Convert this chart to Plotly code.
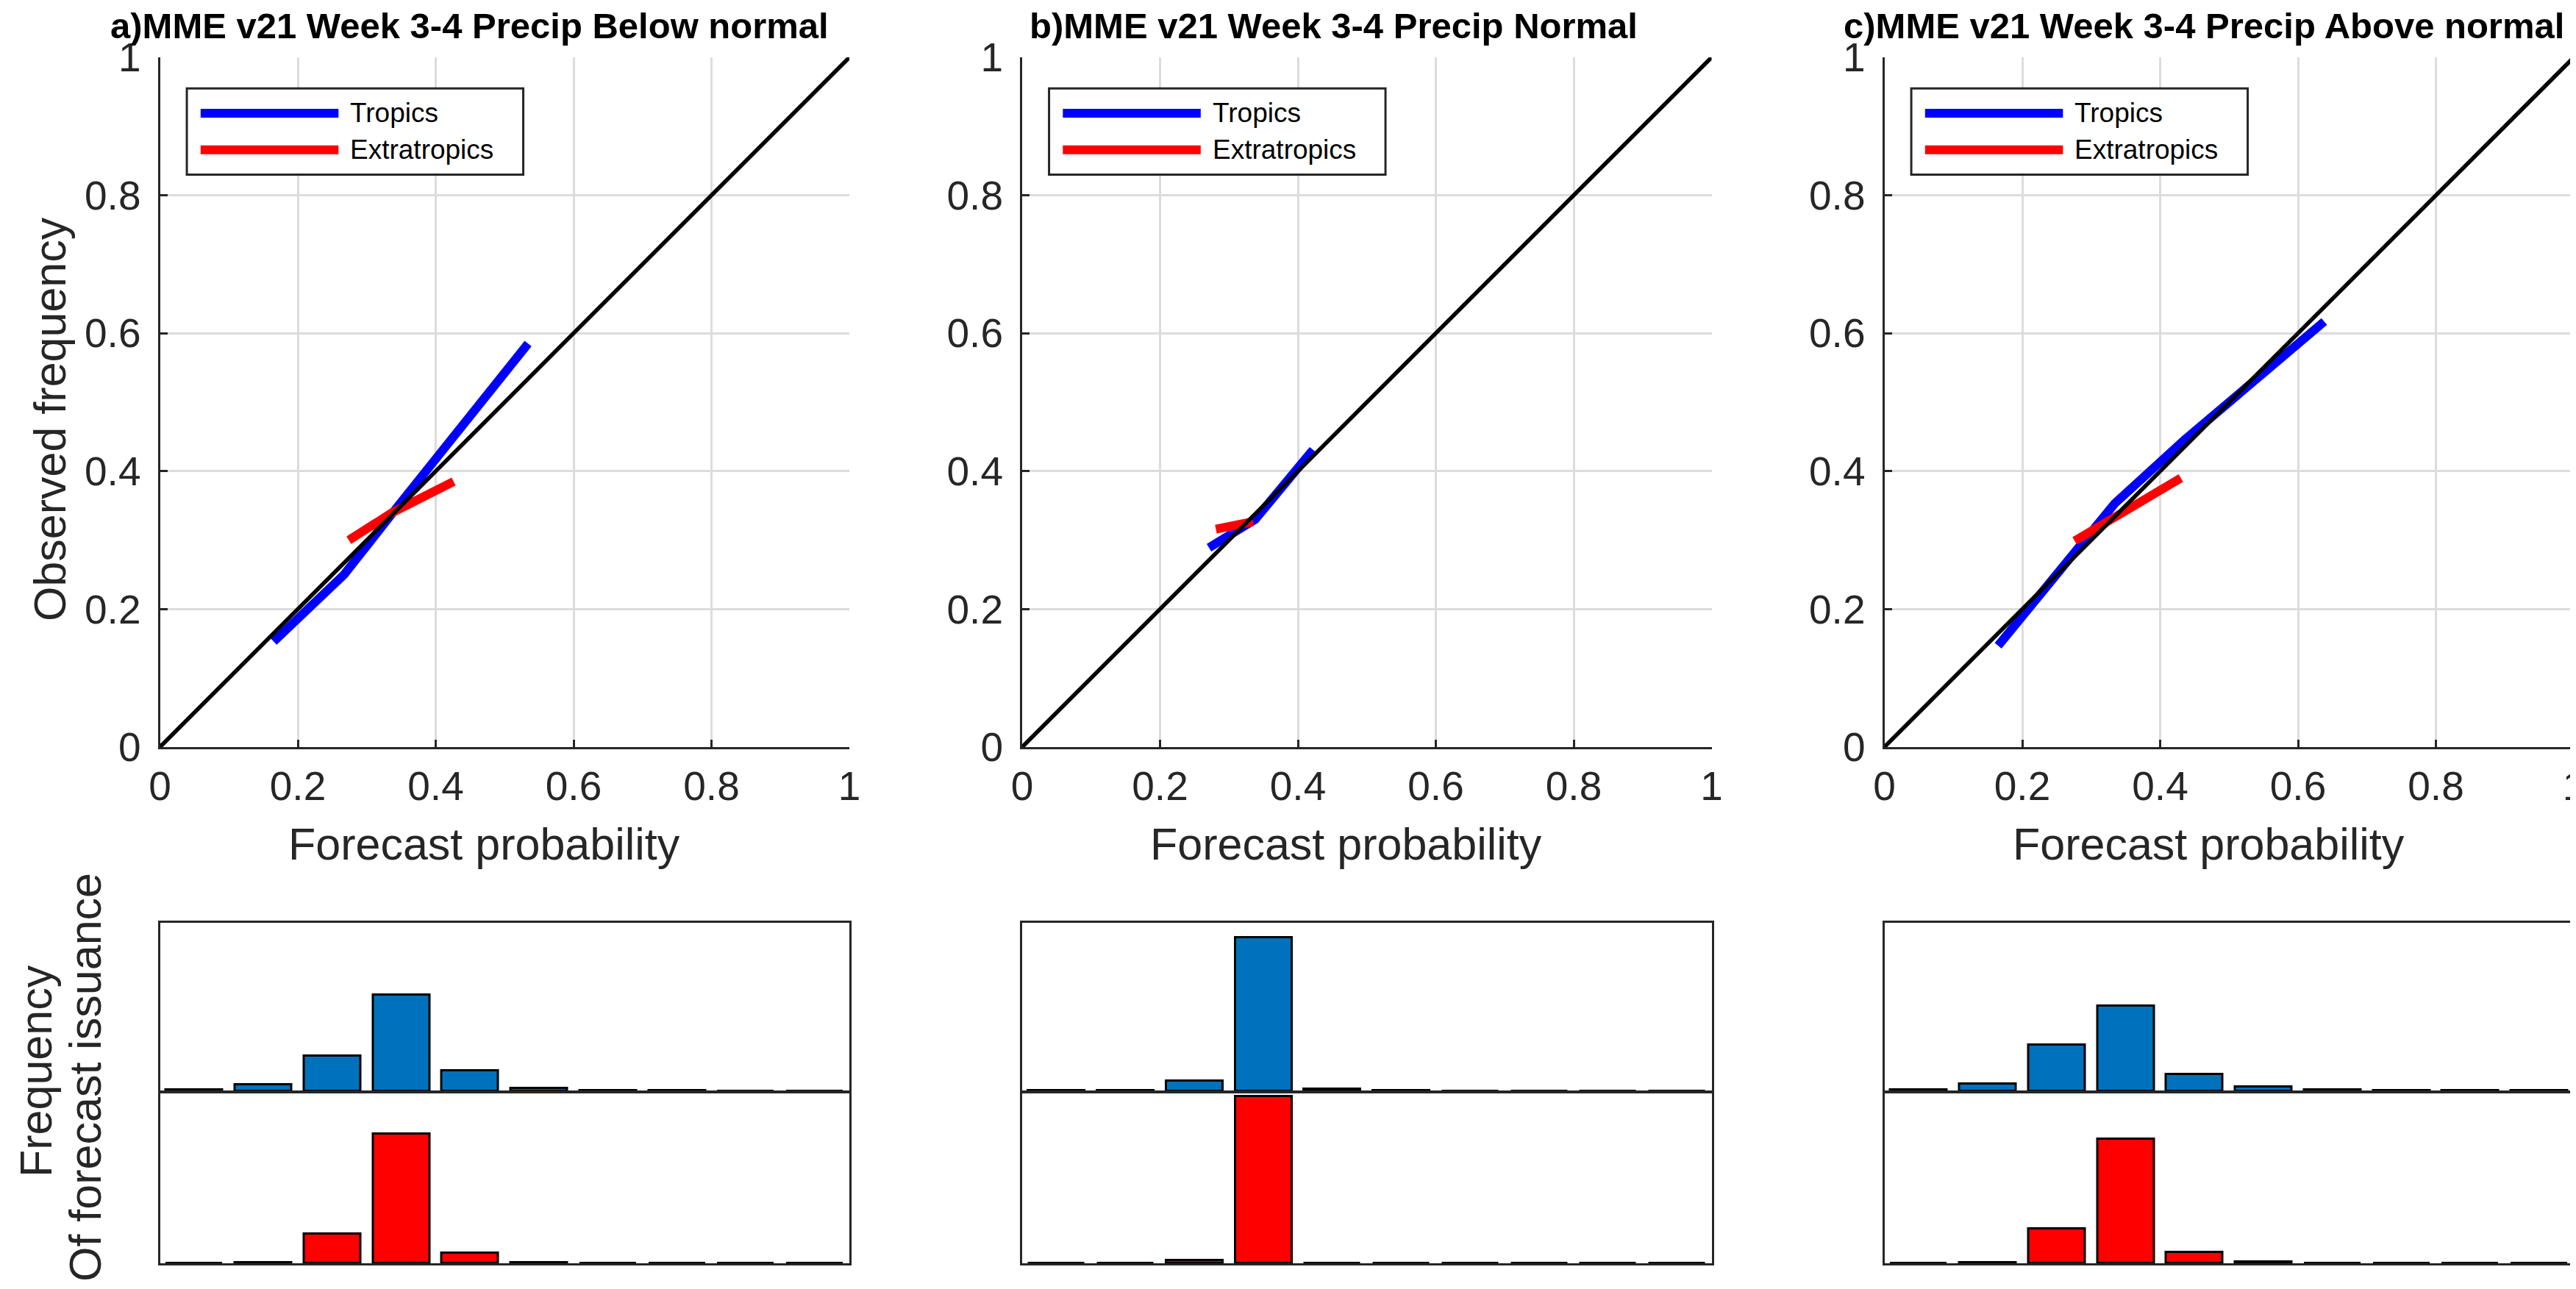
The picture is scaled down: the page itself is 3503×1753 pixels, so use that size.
import plotly.graph_objects as go

# page window is 3503x1753; the html body has an 8 px margin
PAGE_W, PAGE_H = 3503, 1753
OFF = 8
W, H = PAGE_W - OFF, PAGE_H - OFF

# ---------------- data ----------------
titles = ["a)MME v21 Week 3-4 Precip Below normal",
          "b)MME v21 Week 3-4 Precip Normal",
          "c)MME v21 Week 3-4 Precip Above normal"]

tick_vals = [0, 0.2, 0.4, 0.6, 0.8, 1]
tick_text = ["0", "0.2", "0.4", "0.6", "0.8", "1"]

bin_centers = [0.05, 0.15, 0.25, 0.35, 0.45, 0.55, 0.65, 0.75, 0.85, 0.95]

# reliability curves (forecast probability, observed frequency)
trop_x_a = [0.165, 0.267, 0.345, 0.429, 0.534]
trop_y_a = [0.153, 0.250, 0.349, 0.455, 0.585]
extra_x_a = [0.274, 0.337, 0.426]
extra_y_a = [0.300, 0.340, 0.385]

trop_x_b = [0.271, 0.338, 0.422]
trop_y_b = [0.289, 0.330, 0.431]
extra_x_b = [0.281, 0.335]
extra_y_b = [0.316, 0.327]

trop_x_c = [0.165, 0.263, 0.334, 0.435, 0.495, 0.638]
trop_y_c = [0.147, 0.266, 0.353, 0.445, 0.497, 0.617]
extra_x_c = [0.276, 0.335, 0.430]
extra_y_c = [0.299, 0.334, 0.390]

# frequency of forecast issuance (fraction per bin)
hist_trop_a = [0.008, 0.038, 0.208, 0.571, 0.121, 0.017, 0.003, 0.001, 0.0, 0.0]
hist_extra_a = [0.0, 0.006, 0.173, 0.760, 0.060, 0.004, 0.0, 0.0, 0.0, 0.0]
hist_trop_b = [0.002, 0.002, 0.058, 0.912, 0.011, 0.001, 0.0, 0.0, 0.0, 0.0]
hist_extra_b = [0.0, 0.0, 0.018, 0.980, 0.001, 0.0, 0.0, 0.0, 0.0, 0.0]
hist_trop_c = [0.006, 0.042, 0.273, 0.505, 0.097, 0.024, 0.006, 0.003, 0.001, 0.001]
hist_extra_c = [0.0, 0.006, 0.202, 0.730, 0.063, 0.008, 0.002, 0.0, 0.0, 0.0]

trop_x = [trop_x_a, trop_x_b, trop_x_c]
trop_y = [trop_y_a, trop_y_b, trop_y_c]
extra_x = [extra_x_a, extra_x_b, extra_x_c]
extra_y = [extra_y_a, extra_y_b, extra_y_c]
hist_trop = [hist_trop_a, hist_trop_b, hist_trop_c]
hist_extra = [hist_extra_a, hist_extra_b, hist_extra_c]

# ---------------- layout geometry (page pixels) ----------------
x_px = [(217.5, 1155.0), (1390.0, 2327.5), (2562.5, 3500.0)]
main_y_px = (78.0, 1016.0)
htop_y_px = (1255.0, 1483.5)
hbot_y_px = (1486.0, 1718.0)
title_cx = [638, 1813, 2997]


def fx(p):
    return (p - OFF) / W


def fy(p):
    return 1 - (p - OFF) / H


def ydom(px):
    return [fy(px[1]), fy(px[0])]


AX = "#262626"
FONT = "Liberation Sans, Arial, Helvetica, sans-serif"

fig = go.Figure()
layout = dict(width=W, height=H, margin=dict(l=0, r=0, t=0, b=0, pad=0,
                                             autoexpand=False),
              paper_bgcolor="white", plot_bgcolor="white",
              showlegend=False, bargap=0, font=dict(family=FONT, color=AX))
annotations = []
shapes = []

for i in range(3):
    n_main = i + 1
    n_top = i + 4
    n_bot = i + 7
    xd = [fx(x_px[i][0]), fx(x_px[i][1])]

    # main reliability axes
    layout[f"xaxis{n_main}"] = dict(
        domain=xd, anchor=f"y{n_main}", range=[0, 1],
        tickvals=tick_vals, ticktext=tick_text,
        showgrid=True, gridcolor="#dcdcdc", gridwidth=2.5,
        showline=True, linecolor=AX, linewidth=3, zeroline=False,
        ticks="inside", ticklen=10, tickwidth=3, tickcolor=AX,
        tickfont=dict(size=55, color=AX, family=FONT),
        ticklabelstandoff=3, ticklabeloverflow="allow",
        automargin=False, fixedrange=True)
    layout[f"yaxis{n_main}"] = dict(
        domain=ydom(main_y_px), anchor=f"x{n_main}", range=[0, 1],
        tickvals=tick_vals, ticktext=tick_text,
        showgrid=True, gridcolor="#dcdcdc", gridwidth=2.5,
        showline=True, linecolor=AX, linewidth=3, zeroline=False,
        ticks="inside", ticklen=10, tickwidth=3, tickcolor=AX,
        tickfont=dict(size=55, color=AX, family=FONT),
        ticklabelstandoff=12, ticklabeloverflow="allow",
        automargin=False, fixedrange=True)

    # histogram axes
    for n, yp in ((n_top, htop_y_px), (n_bot, hbot_y_px)):
        layout[f"xaxis{n}"] = dict(
            domain=xd, anchor=f"y{n}", range=[0, 1],
            showticklabels=False, ticks="", showgrid=False,
            showline=True, mirror=True, linecolor=AX, linewidth=3,
            zeroline=False, automargin=False, fixedrange=True)
        layout[f"yaxis{n}"] = dict(
            domain=ydom(yp), anchor=f"x{n}", range=[0, 1],
            showticklabels=False, ticks="", showgrid=False,
            showline=True, mirror=True, linecolor=AX, linewidth=3,
            zeroline=False, automargin=False, fixedrange=True)

    xa = f"x{n_main}"
    ya = f"y{n_main}"
    fig.add_trace(go.Scatter(x=trop_x[i], y=trop_y[i], mode="lines",
                             line=dict(color="#0000ff", width=12),
                             xaxis=xa, yaxis=ya, name="Tropics"))
    fig.add_trace(go.Scatter(x=extra_x[i], y=extra_y[i], mode="lines",
                             line=dict(color="#ff0000", width=12),
                             xaxis=xa, yaxis=ya, name="Extratropics"))
    fig.add_trace(go.Scatter(x=[0, 1], y=[0, 1], mode="lines",
                             line=dict(color="black", width=5.5),
                             xaxis=xa, yaxis=ya, name="Perfect"))

    fig.add_trace(go.Bar(x=bin_centers, y=hist_trop[i], width=0.082,
                         marker=dict(color="#0072bd",
                                     line=dict(color="black", width=3)),
                         xaxis=f"x{n_top}", yaxis=f"y{n_top}"))
    fig.add_trace(go.Bar(x=bin_centers, y=hist_extra[i], width=0.082,
                         marker=dict(color="#ff0000",
                                     line=dict(color="black", width=3)),
                         xaxis=f"x{n_bot}", yaxis=f"y{n_bot}"))

    # legend (drawn in axis coordinates)
    shapes.append(dict(type="rect", xref=xa, yref=ya, x0=0.039, x1=0.527,
                       y0=0.830, y1=0.955, fillcolor="white",
                       line=dict(color=AX, width=3), layer="above"))
    for yy, col, lab in ((0.919, "#0000ff", "Tropics"),
                         (0.866, "#ff0000", "Extratropics")):
        shapes.append(dict(type="line", xref=xa, yref=ya, x0=0.059, x1=0.259,
                           y0=yy, y1=yy, line=dict(color=col, width=12),
                           layer="above"))
        annotations.append(dict(text=lab, xref=xa, yref=ya, x=0.274, y=yy,
                                xanchor="left", yanchor="middle",
                                showarrow=False,
                                font=dict(size=37, color="black", family=FONT)))

    # title
    annotations.append(dict(text=f"<b>{titles[i]}</b>", xref="paper",
                            yref="paper", x=fx(title_cx[i]), y=fy(35),
                            xanchor="center", yanchor="middle",
                            showarrow=False,
                            font=dict(size=49, color="black", family=FONT)))
    # x label
    annotations.append(dict(text="Forecast probability", xref="paper",
                            yref="paper",
                            x=fx(x_px[i][0] + 0.47 * (x_px[i][1] - x_px[i][0])),
                            y=fy(1148), xanchor="center", yanchor="middle",
                            showarrow=False,
                            font=dict(size=61, color=AX, family=FONT)))

# y labels
annotations.append(dict(text="Observed frequency", xref="paper", yref="paper",
                        x=fx(68), y=fy(570), xanchor="center",
                        yanchor="middle", textangle=-90, showarrow=False,
                        font=dict(size=61, color=AX, family=FONT)))
annotations.append(dict(text="Frequency",
                        xref="paper", yref="paper", x=fx(49), y=fy(1457),
                        xanchor="center", yanchor="middle", textangle=-90,
                        showarrow=False,
                        font=dict(size=61, color=AX, family=FONT)))
annotations.append(dict(text="Of forecast issuance",
                        xref="paper", yref="paper", x=fx(116), y=fy(1465),
                        xanchor="center", yanchor="middle", textangle=-90,
                        showarrow=False,
                        font=dict(size=61, color=AX, family=FONT)))

layout["annotations"] = annotations
layout["shapes"] = shapes
fig.update_layout(**layout)

fig.write_html("out.html")
